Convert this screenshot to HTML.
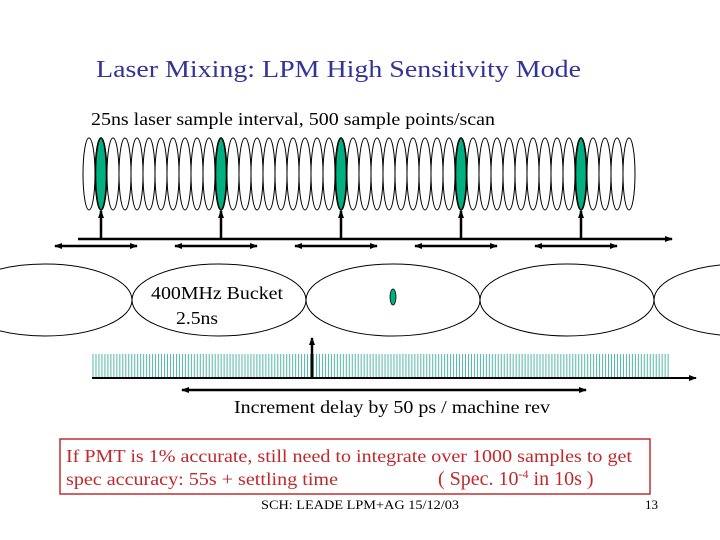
<!DOCTYPE html>
<html><head><meta charset="utf-8"><style>
html,body{margin:0;padding:0;background:#fff;}
svg{display:block;}
svg text{font-family:"Liberation Serif","Times New Roman",serif;}
</style></head><body>
<svg id="s" width="720" height="540" viewBox="0 0 720 540" xmlns="http://www.w3.org/2000/svg" font-family="Liberation Serif, serif">
<defs>
<marker id="ah" markerWidth="8" markerHeight="8" refX="7" refY="4" orient="auto-start-reverse" markerUnits="userSpaceOnUse"><path d="M0,1 L8,4 L0,7 Z" fill="#000"/></marker>
</defs>
<text x="96" y="77" font-size="24" fill="#33339a" textLength="485" lengthAdjust="spacingAndGlyphs">Laser Mixing: LPM High Sensitivity Mode</text>
<text x="91" y="125" font-size="18" fill="#000" textLength="404" lengthAdjust="spacingAndGlyphs">25ns laser sample interval, 500 sample points/scan</text>
<g id="samples"></g>
<line x1="78" y1="239" x2="672" y2="239" stroke="#000" stroke-width="2.5" marker-end="url(#ah)"/>
<g id="darrows"></g>
<g id="buckets"></g>
<text x="151" y="299" font-size="18" textLength="132" lengthAdjust="spacingAndGlyphs">400MHz Bucket</text>
<text x="176" y="324" font-size="18" textLength="42" lengthAdjust="spacingAndGlyphs">2.5ns</text>
<ellipse cx="393" cy="297" rx="3" ry="8" fill="#00b080" stroke="#000" stroke-width="0.8"/>
<g id="ticks"></g>
<line x1="92" y1="378" x2="696" y2="378" stroke="#000" stroke-width="2" marker-end="url(#ah)"/>
<line x1="312" y1="378" x2="312" y2="338" stroke="#000" stroke-width="2.5" marker-end="url(#ah)"/>
<line x1="182" y1="390" x2="586" y2="390" stroke="#000" stroke-width="2.5" marker-start="url(#ah)" marker-end="url(#ah)"/>
<text x="234" y="413" font-size="18" textLength="316" lengthAdjust="spacingAndGlyphs">Increment delay by 50 ps / machine rev</text>
<rect x="60" y="439" width="590" height="55" fill="none" stroke="#c03030" stroke-width="1.5"/>
<text x="66" y="462" font-size="18" fill="#c0282c" textLength="566" lengthAdjust="spacingAndGlyphs">If PMT is 1% accurate, still need to integrate over 1000 samples to get</text>
<text x="66" y="485" font-size="18" fill="#c0282c" textLength="272" lengthAdjust="spacingAndGlyphs">spec accuracy: 55s + settling time</text>
<text x="438" y="485" font-size="20" fill="#c0282c">( Spec. 10<tspan font-size="12" dy="-7">-4</tspan><tspan dy="7"> in 10s )</tspan></text>
<text x="261" y="509" font-size="13" textLength="198" lengthAdjust="spacingAndGlyphs">SCH: LEADE  LPM+AG 15/12/03</text>
<text x="645" y="509" font-size="13">13</text>
</svg>
<script>
const sampleCount = 46;
const greenIdx = [1, 11, 21, 31, 41];
const arrowStarts = [55, 175, 295, 415, 535];
const bucketCenters = [45, 219, 393, 567, 741];
const tickCount = 194;
const NS="http://www.w3.org/2000/svg";
function mk(t,a,p){const e=document.createElementNS(NS,t);for(const k in a)e.setAttribute(k,a[k]);p.appendChild(e);return e;}
const sg=document.getElementById('samples');
for(let i=0;i<sampleCount;i++){
  const cx=89+i*12;
  const e=mk('ellipse',{cx:cx,cy:174,rx:6,ry:36,fill:'none',stroke:'#000','stroke-width':1},sg);
  
  
}
greenIdx.forEach(i=>{
  const cx=89+i*12;
  const e=mk('ellipse',{cx:cx,cy:174,rx:5.5,ry:36,fill:'#00b080',stroke:'#000','stroke-width':1.5},sg);
  
  
  const l=mk('line',{x1:cx,y1:239,x2:cx,y2:211,stroke:'#000','stroke-width':2.5,'marker-end':'url(#ah)'},sg);
  
  
});
const dg=document.getElementById('darrows');
arrowStarts.forEach(x=>{
  const l=mk('line',{x1:x,y1:246,x2:x+82,y2:246,stroke:'#000','stroke-width':2.5,'marker-start':'url(#ah)','marker-end':'url(#ah)'},dg);
  
  
});
const bg=document.getElementById('buckets');
bucketCenters.forEach(cx=>{
  const e=mk('ellipse',{cx:cx,cy:300,rx:87,ry:36,fill:'none',stroke:'#000','stroke-width':1},bg);
  
  
});
const tg=document.getElementById('ticks');
for(let i=0;i<tickCount;i++){
  const x=93+i*2.98;
  const l=mk('line',{x1:x,y1:354,x2:x,y2:377,stroke:'#50b8a8','stroke-width':1},tg);
  
  
}
</script>
</body></html>
